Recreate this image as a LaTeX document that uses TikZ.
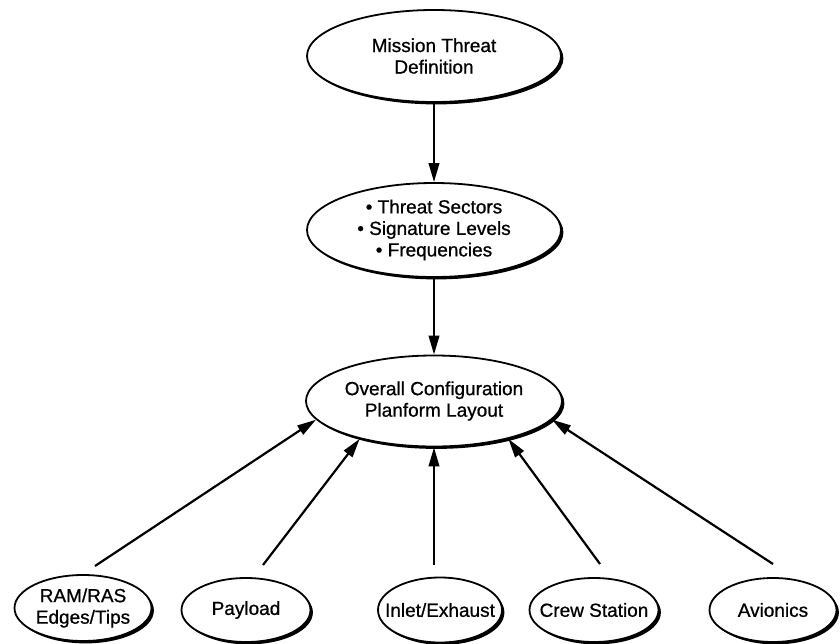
\documentclass[tikz,border=0pt]{standalone}
\usepackage{fontspec}
\setmainfont{Liberation Sans}
\newfontfamily\labelfont{Liberation Sans}[FakeBold=0.8]
\usetikzlibrary{shapes.geometric,shadows,arrows.meta}

\tikzset{
  % negative inner sep keeps each oval at its given size regardless of its text
  oval/.style={ellipse, draw, line width=1.8pt, fill=white,
    inner xsep=-30pt, inner ysep=-10pt,
    align=center, font=\labelfont\fontsize{19}{21.5}\selectfont,
    drop shadow={shadow xshift=2.4pt, shadow yshift=-2.4pt, fill=black, opacity=1}},
  feed/.style={line width=2.2pt, -{Triangle[length=19pt,width=10.5pt]}}
}

\begin{document}
\begin{tikzpicture}[x=1pt, y=-1pt]
  \useasboundingbox (0,0) rectangle (840,644);

  % upper chain
  \node[oval, minimum width=254pt, minimum height=92pt] (mission) at (434,56)
    {Mission Threat\\Definition};
  \node[oval, minimum width=254pt, minimum height=94pt] (threats) at (434,230)
    {\textbullet\ Threat Sectors\\\textbullet\ Signature Levels\\\textbullet\ Frequencies};
  \node[oval, minimum width=256pt, minimum height=91pt] (overall) at (434,401)
    {Overall Configuration\\Planform Layout};

  % contributing items
  \node[oval, minimum width=137pt, minimum height=66pt] (ram) at (83,608)
    {RAM/RAS\\Edges/Tips};
  \node[oval, minimum width=129pt, minimum height=64pt] (payload) at (246,610)
    {Payload};
  \node[oval, minimum width=124pt, minimum height=65pt] (inlet) at (440,610)
    {Inlet/Exhaust};
  \node[oval, minimum width=129pt, minimum height=64pt] (crew) at (594,610)
    {Crew Station};
  \node[oval, minimum width=127pt, minimum height=64pt] (avionics) at (773,610)
    {Avionics};

  % loose tails of the feeding arrows, just above each item
  \coordinate (t1) at (95,566);
  \coordinate (t2) at (263,565);
  \coordinate (t3) at (434,565);
  \coordinate (t4) at (600,564);
  \coordinate (t5) at (773,564);

  \draw[feed] (mission.south) -- (threats.north);
  \draw[feed] (threats.south) -- (overall.north);

  \draw[feed] (t1) -- (overall.189.5);
  \draw[feed] (t2) -- (overall.207.8);
  \draw[feed] (t3) -- (overall.south);
  \draw[feed] (t4) -- (overall.333.6);
  \draw[feed] (t5) -- (overall.351.4);
\end{tikzpicture}
\end{document}
